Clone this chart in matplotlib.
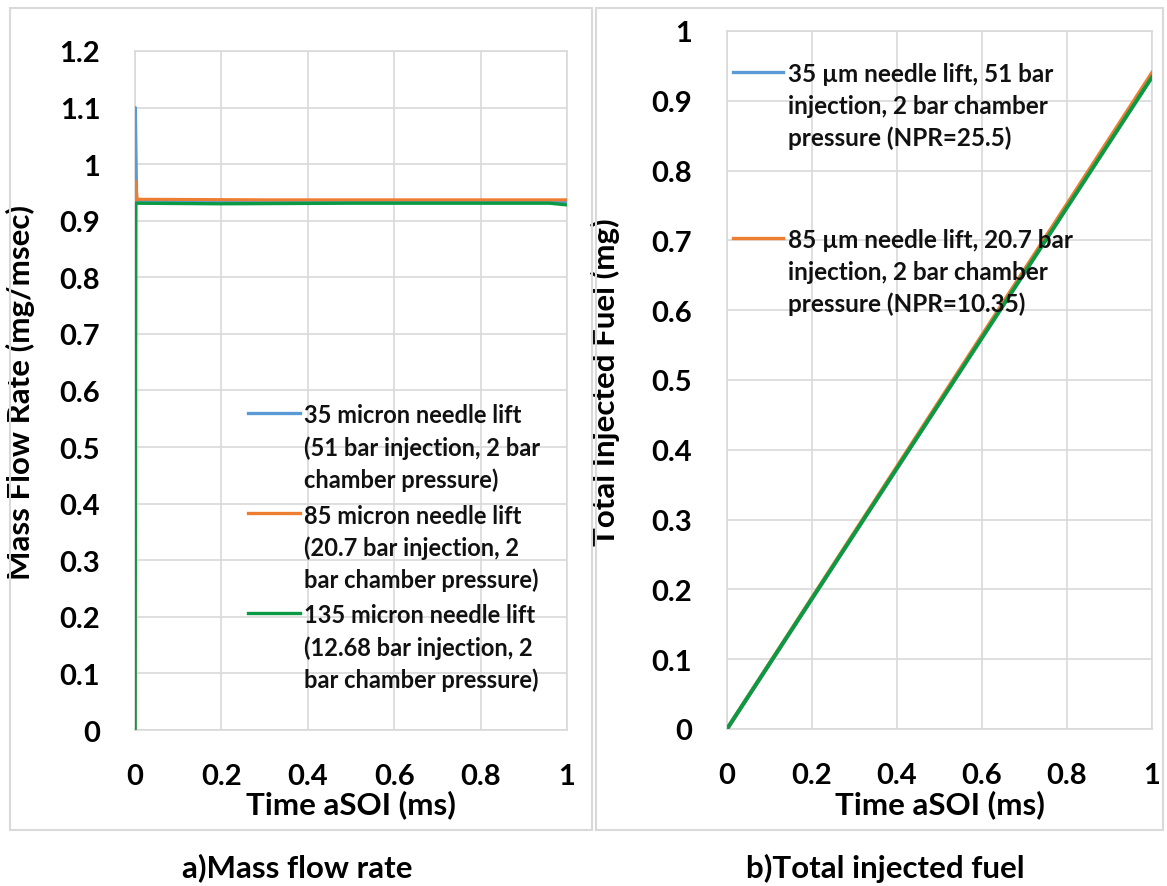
import matplotlib
matplotlib.use("Agg")
import matplotlib.pyplot as plt
from matplotlib.lines import Line2D
from matplotlib.patches import Rectangle
from matplotlib.ticker import FuncFormatter, MultipleLocator

plt.rcParams['font.family'] = ['Lato', 'DejaVu Sans']
plt.rcParams['font.weight'] = 'bold'

# ---------------- data ----------------
# (a) mass flow rate (mg/msec) vs time aSOI (ms)
t_blue_a = [0.0, 0.001, 0.004, 0.30, 0.60, 1.0]
mfr_blue = [0.0, 1.10, 0.935, 0.934, 0.934, 0.934]
t_orange_a = [0.0, 0.001, 0.005, 0.30, 0.60, 1.0]
mfr_orange = [0.0, 0.97, 0.938, 0.937, 0.937, 0.937]
t_green_a = [0.0, 0.002, 0.20, 0.50, 0.96, 1.0]
mfr_green = [0.0, 0.931, 0.930, 0.931, 0.931, 0.928]

# (b) total injected fuel (mg) vs time aSOI (ms)
t_b = [0.0, 1.0]
fuel_blue = [0.0, 0.935]
fuel_orange = [0.0, 0.940]
fuel_green = [0.0, 0.934]

colors = {'blue': '#5b9bd5', 'orange': '#ed7d31', 'green': '#0a9a44'}

legend_a = [
    ["35 micron needle lift", "(51 bar injection, 2 bar", "chamber pressure)"],
    ["85 micron needle lift", "(20.7 bar injection, 2", "bar chamber pressure)"],
    ["135 micron needle lift", "(12.68 bar injection, 2", "bar chamber pressure)"],
]
legend_b = [
    ["35 \u00b5m needle lift, 51 bar", "injection, 2 bar chamber", "pressure (NPR=25.5)"],
    ["85 \u00b5m needle lift, 20.7 bar", "injection, 2 bar chamber", "pressure (NPR=10.35)"],
]

xticks = [0, 0.2, 0.4, 0.6, 0.8, 1.0]

# ---------------- layout ----------------
W, H = 1167, 887
fig = plt.figure(figsize=(W / 100, H / 100), dpi=100)


def fx(px):
    return px / W


def fy(py):
    return 1 - py / H


# panel borders
for x0, x1 in [(10, 592), (596, 1163)]:
    fig.add_artist(Rectangle((fx(x0), fy(831)), fx(x1) - fx(x0), fy(9) - fy(831),
                             transform=fig.transFigure, fill=False,
                             edgecolor='#d9d9d9', lw=1.5))

axA = fig.add_axes([fx(135), fy(731), fx(567) - fx(135), fy(52) - fy(731)])
axB = fig.add_axes([fx(727), fy(730), fx(1152) - fx(727), fy(32) - fy(730)])

fmt = FuncFormatter(lambda v, p: f"{v:g}")

for ax in (axA, axB):
    ax.set_xlim(0, 1)
    ax.set_xticks(xticks)
    ax.xaxis.set_major_formatter(fmt)
    ax.yaxis.set_major_formatter(fmt)
    ax.yaxis.set_major_locator(MultipleLocator(0.1))
    ax.grid(True, color='#d9d9d9', lw=1.2)
    ax.set_axisbelow(True)
    for s in ax.spines.values():
        s.set_color('#d9d9d9')
        s.set_linewidth(1.2)
    ax.tick_params(length=0, labelsize=21)
    ax.tick_params(axis='x', pad=24)
    ax.tick_params(axis='y', pad=25)
    for lab in ax.get_xticklabels() + ax.get_yticklabels():
        lab.set_fontweight('bold')

axA.set_ylim(0, 1.2)
axB.set_ylim(0, 1.0)

axA.plot(t_blue_a, mfr_blue, color=colors['blue'], lw=2.2, zorder=3)
axA.plot(t_orange_a, mfr_orange, color=colors['orange'], lw=2.2, zorder=4)
axA.plot(t_green_a, mfr_green, color=colors['green'], lw=2.4, zorder=5)

axB.plot(t_b, fuel_blue, color=colors['blue'], lw=2.8, zorder=3)
axB.plot(t_b, fuel_orange, color=colors['orange'], lw=2.8, zorder=4)
axB.plot(t_b, fuel_green, color=colors['green'], lw=2.8, zorder=5)

for ax in (axA, axB):
    ax.set_xlabel("Time aSOI (ms)", fontsize=22.5, fontweight='bold')

axA.xaxis.set_label_coords(0.5, (731 - 790) / 679)
axB.xaxis.set_label_coords(0.5, (730 - 790) / 698)

axA.set_ylabel("Mass Flow Rate (mg/msec)", fontsize=22.5, fontweight='bold')
axB.set_ylabel("Total Injected Fuel (mg)", fontsize=22.5, fontweight='bold')
axA.yaxis.set_label_coords(-(135 - 35) / 432, (731 - 392) / 679)
axB.yaxis.set_label_coords(-(727 - 620) / 425, (730 - 382) / 698)


def draw_legend(entries, cols, x_line0, x_line1, x_text, y_first, entry_step, line_step, fs):
    for i, (lines, c) in enumerate(zip(entries, cols)):
        y0 = y_first[i] if isinstance(y_first, list) else y_first + i * entry_step
        fig.add_artist(Line2D([fx(x_line0), fx(x_line1)], [fy(y0), fy(y0)],
                              transform=fig.transFigure, color=c, lw=2.4))
        for j, txt in enumerate(lines):
            fig.text(fx(x_text), fy(y0 + j * line_step), txt, fontsize=fs,
                     fontweight='bold', va='center_baseline', ha='left', color='#111111')


draw_legend(legend_a, [colors['blue'], colors['orange'], colors['green']],
            248, 300, 304, 414, 100, 32, 17)
draw_legend(legend_b, [colors['blue'], colors['orange']],
            733, 783, 788, [73, 239], 0, 31.5, 17.5)

fig.text(fx(297), fy(868), "a)Mass flow rate", fontsize=22.5, fontweight='bold',
         ha='center', va='center')
fig.text(fx(885), fy(868), "b)Total injected fuel", fontsize=22.5, fontweight='bold',
         ha='center', va='center')

fig.savefig("out.png", dpi=100)
